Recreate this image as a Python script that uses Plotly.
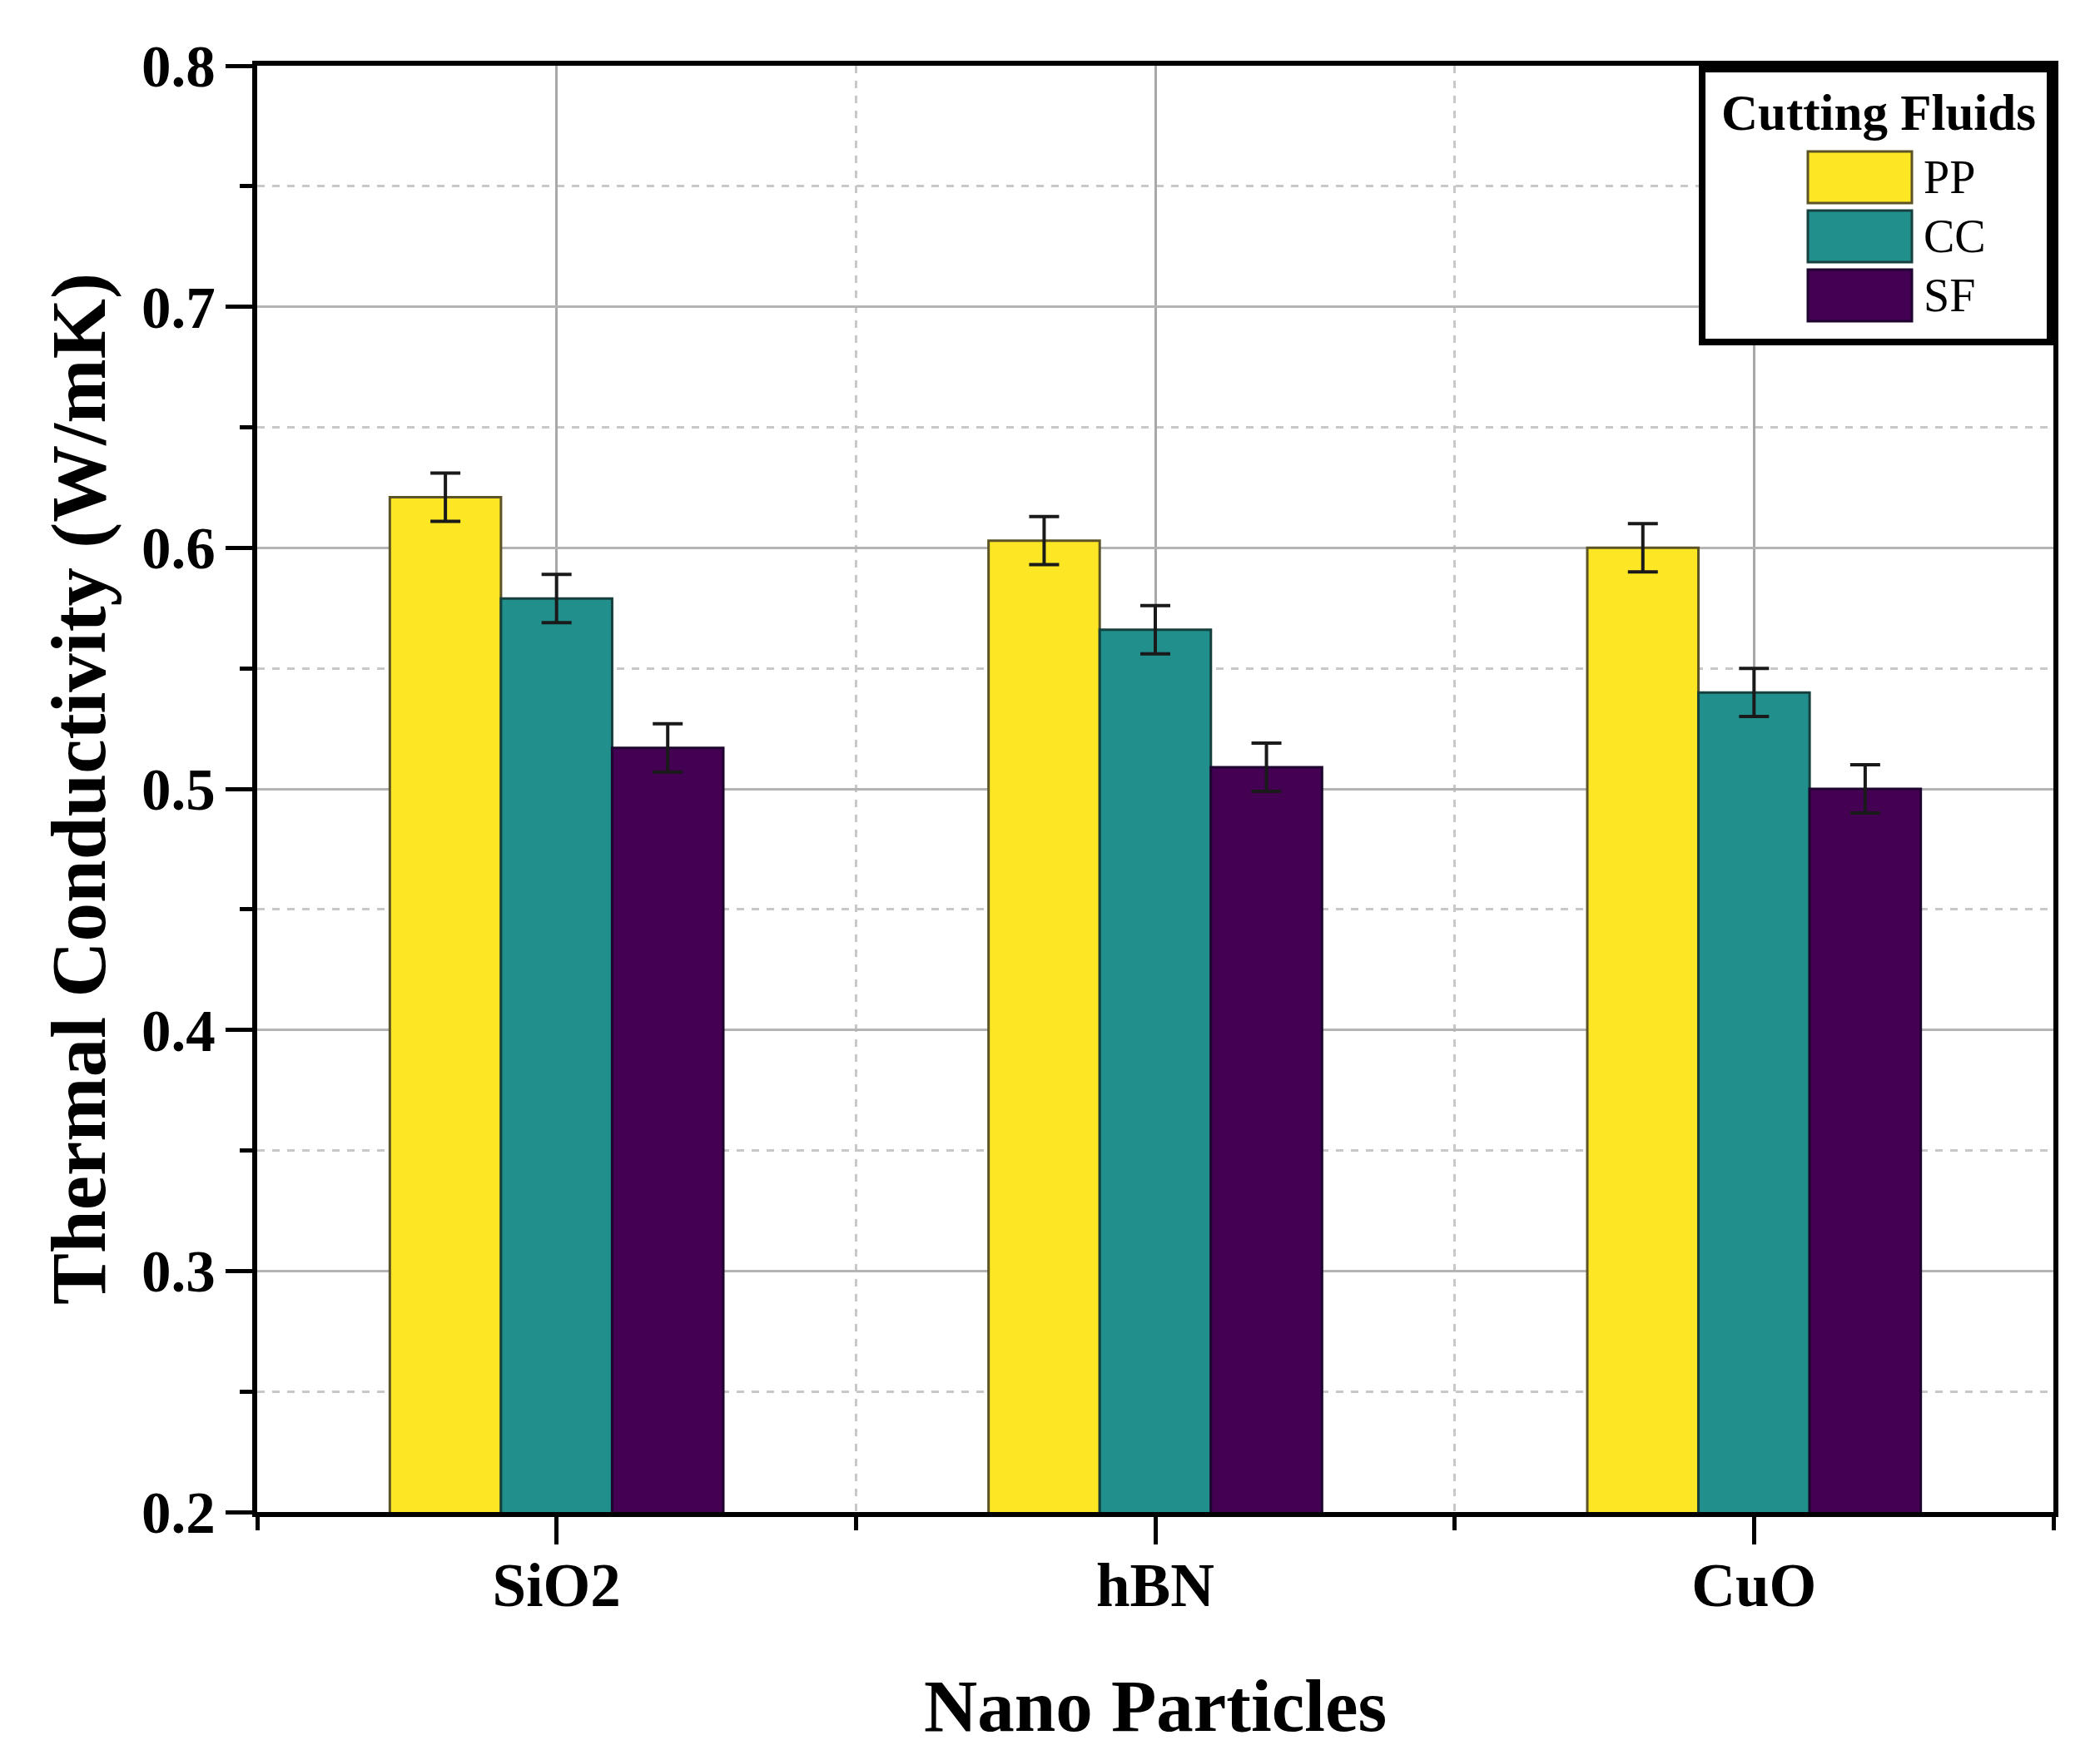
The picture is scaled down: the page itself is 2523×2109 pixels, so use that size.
import plotly.graph_objects as go

# data
particles = ["SiO2", "hBN", "CuO"]
fluids = ["PP", "CC", "SF"]
pp_values = [0.621, 0.603, 0.600]
cc_values = [0.579, 0.566, 0.540]
sf_values = [0.517, 0.509, 0.500]
pp_err = [0.010, 0.010, 0.010]
cc_err = [0.010, 0.010, 0.010]
sf_err = [0.010, 0.010, 0.010]

fill_colors = ["#FDE725", "#21908D", "#440154"]
edge_colors = ["#5c5426", "#16403e", "#1e0530"]

W, H = 2523, 2109
L, R, T, B = 309, 2467, 79, 1817
FONT = "Liberation Serif"


def px_x(p):
    return (p - L) / (R - L)


def px_y(p):
    return (B - p) / (B - T)


values = [pp_values, cc_values, sf_values]
errors = [pp_err, cc_err, sf_err]
positions = list(range(len(particles)))

fig = go.Figure()
for name, vals, errs, fc, ec in zip(fluids, values, errors, fill_colors, edge_colors):
    fig.add_trace(go.Bar(
        x=positions, y=vals, name=name, showlegend=False,
        marker=dict(color=fc, line=dict(color=ec, width=3)),
        error_y=dict(type="data", array=errs, color="#1a1a1a", thickness=4, width=18),
    ))

fig.update_layout(
    width=W, height=H,
    margin=dict(l=L, r=W - R, t=T, b=H - B),
    paper_bgcolor="white", plot_bgcolor="white",
    barmode="group", bargap=0.443, bargroupgap=0,
    font=dict(family=FONT, color="black"),
)

fig.update_xaxes(
    range=[-0.5, 2.5], tickvals=positions, ticktext=particles,
    tickfont=dict(family=FONT, size=73, weight="bold"),
    ticks="outside", ticklen=33, tickwidth=5, tickcolor="black",
    ticklabelstandoff=-14,
    showline=True, linewidth=6, linecolor="black", mirror=True,
    showgrid=True, gridcolor="#a8a8a8", gridwidth=3,
    zeroline=False,
    minor=dict(tick0=0.5, dtick=1, ticks="outside", ticklen=16, tickwidth=5,
               tickcolor="black", showgrid=True, gridcolor="#c8c8c8",
               gridwidth=3, griddash="dash"),
    title=dict(text="Nano Particles", standoff=75,
               font=dict(family=FONT, size=89, weight="bold")),
)

fig.update_yaxes(
    range=[0.2, 0.8], dtick=0.1, tick0=0.2, tickformat=".1f",
    tickfont=dict(family=FONT, size=71, weight="bold"),
    ticks="outside", ticklen=32, tickwidth=5, tickcolor="black",
    ticklabelstandoff=-2,
    showline=True, linewidth=6, linecolor="black", mirror=True,
    showgrid=True, gridcolor="#b4b4b4", gridwidth=3,
    zeroline=False,
    minor=dict(dtick=0.05, ticks="outside", ticklen=15, tickwidth=5,
               tickcolor="black", showgrid=True, gridcolor="#c8c8c8",
               gridwidth=3, griddash="dash"),
    title=dict(text="Thermal Conductivity (W/mK)", standoff=14,
               font=dict(family=FONT, size=93, weight="bold")),
)

# hand-built legend with large swatches, as in the original figure
fig.add_shape(type="rect", xref="paper", yref="paper",
              x0=px_x(2045), x1=px_x(2463), y0=px_y(411), y1=px_y(83),
              line=dict(color="black", width=8), fillcolor="white", layer="above")
fig.add_annotation(xref="paper", yref="paper", x=px_x(2257), y=px_y(135),
                   xanchor="center", yanchor="middle",
                   text="<b>Cutting Fluids</b>", showarrow=False,
                   font=dict(family=FONT, size=61, color="black"))
for i, (name, fc, ec) in enumerate(zip(fluids, fill_colors, edge_colors)):
    top = 182 + i * 71
    fig.add_shape(type="rect", xref="paper", yref="paper",
                  x0=px_x(2172), x1=px_x(2297), y0=px_y(top + 62), y1=px_y(top),
                  line=dict(color=ec, width=3), fillcolor=fc, layer="above")
    fig.add_annotation(xref="paper", yref="paper", x=px_x(2309), y=px_y(top + 31),
                       xanchor="left", yanchor="middle", text=name, showarrow=False,
                       font=dict(family=FONT, size=56, color="black"))

fig.write_html("out.html", config={"displayModeBar": False},
               post_script="document.body.style.margin='0';")
